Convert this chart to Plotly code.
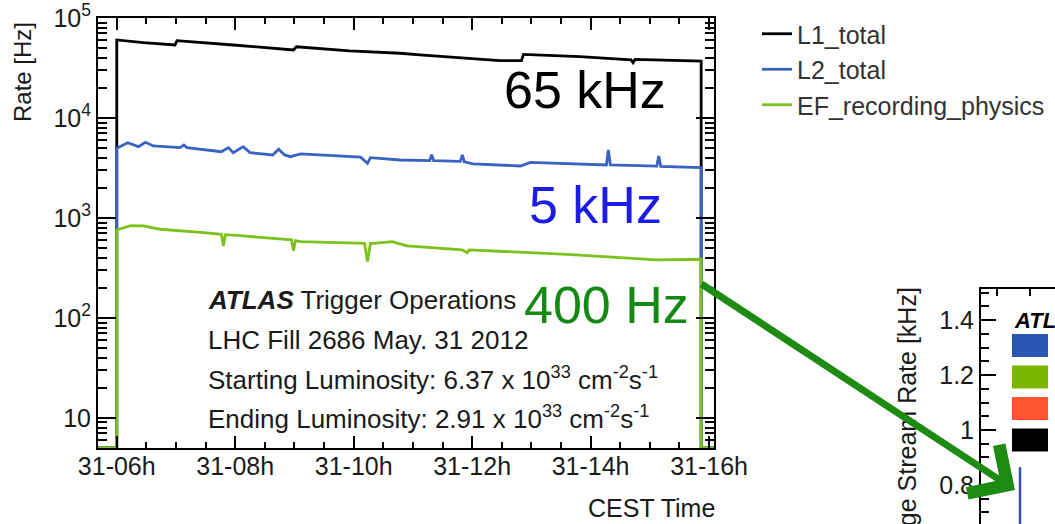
import math
import plotly.graph_objects as go

W, H = 1055, 524
DAY = "2012-05-31 "
FLOOR_HZ = 5.0  # empty bins sit on the bottom of the frame

# Trigger rates for LHC fill 2686 (clock time, rate in Hz)
l1_time = ["05:41", "06:00", "06:00", "06:27", "06:59", "07:01", "07:58", "08:59",
           "09:02", "09:56", "10:47", "11:07", "12:28", "12:50", "12:52", "13:49",
           "14:41", "14:43", "14:45", "15:52", "15:52", "16:05"]
l1_rate = [FLOOR_HZ, FLOOR_HZ, 60300, 56600, 53700, 59300, 53700, 47900,
           51600, 46800, 44400, 42700, 37400, 37400, 43300, 41000,
           38200, 35700, 38500, 37000, FLOOR_HZ, FLOOR_HZ]

l2_time = ["05:41", "06:00", "06:00", "06:11", "06:22", "06:29", "06:37", "07:04",
           "07:08", "07:11", "07:46", "07:53", "07:58", "08:08", "08:15", "08:38",
           "08:44", "08:50", "08:56", "09:06", "10:07", "10:14", "10:17", "10:47",
           "11:17", "11:19", "11:21", "11:48", "11:50", "11:52", "12:01", "12:49",
           "12:59", "14:16", "14:18", "14:20", "15:07", "15:09", "15:11", "15:52",
           "15:52", "16:05"]
l2_rate = [FLOOR_HZ, FLOOR_HZ, 4980, 5660, 5170, 5720, 5250, 5050,
           5370, 5050, 4600, 5050, 4500, 5170, 4500, 4270,
           4860, 4270, 4100, 4370, 4050, 3520, 4010, 3800,
           3740, 4300, 3740, 3680, 4270, 3650, 3470, 3310,
           3600, 3390, 4790, 3390, 3300, 4170, 3280, 3190,
           FLOOR_HZ, FLOOR_HZ]

ef_time = ["05:41", "06:00", "06:00", "06:14", "06:27", "06:44", "07:25", "07:46",
           "07:48", "07:50", "08:05", "08:57", "08:59", "09:01", "09:06", "10:11",
           "10:14", "10:17", "10:20", "10:39", "10:54", "11:50", "11:55", "11:57",
           "13:36", "15:07", "15:52", "15:52", "16:05"]
ef_rate = [FLOOR_HZ, FLOOR_HZ, 759, 838, 832, 771, 719, 687,
           525, 680, 665, 603, 471, 592, 580, 558,
           366, 558, 558, 580, 525, 480, 450, 479,
           433, 380, 386, FLOOR_HZ, FLOOR_HZ]

# Stream rate panel on the right [kHz]
stream_time = [0.697, 0.697]
stream_rate = [0.60, 0.865]

# Legend swatches of the stream rate panel
stream_colors = ["#2b55b5", "#7ab800", "#ff5533", "#000000"]

# Axis labels
rate_tickvals = [10, 100, 1000, 10000, 100000]
rate_ticktext = ["10", "10<sup>2</sup>", "10<sup>3</sup>", "10<sup>4</sup>", "10<sup>5</sup>"]
stream_tickvals = [0.8, 1.0, 1.2, 1.4]
stream_ticktext = ["0.8", "1", "1.2", "1.4"]

FONT = "Liberation Sans, Arial, sans-serif"
TXT = "#1a1a1a"


def px(x):
    return x / W


def py(y):
    return 1 - y / H


fig = go.Figure()
series = [
    ("L1_total", l1_time, l1_rate, "#000000"),
    ("L2_total", l2_time, l2_rate, "#3a62c2"),
    ("EF_recording_physics", ef_time, ef_rate, "#7cc21e"),
]
for name, t, r, c in series:
    fig.add_trace(go.Scatter(
        x=[DAY + s for s in t], y=r, mode="lines", name=name,
        line=dict(color=c, width=2.8), xaxis="x", yaxis="y"))

fig.add_trace(go.Scatter(
    x=stream_time, y=stream_rate, mode="lines", showlegend=False,
    line=dict(color="#3b4db5", width=2.5), xaxis="x2", yaxis="y2"))

minor_log = [d * 10 ** k for k in range(0, 5) for d in range(2, 10) if d * 10 ** k >= FLOOR_HZ]

axis_common = dict(showline=True, linecolor="black", linewidth=2, showgrid=False,
                   zeroline=False, tickcolor="black", tickwidth=1.5, automargin=False,
                   tickfont=dict(family=FONT, size=25, color=TXT))

fig.update_layout(
    template="none",
    width=W, height=H,
    margin=dict(l=0, r=0, t=0, b=0, autoexpand=False),
    paper_bgcolor="white", plot_bgcolor="white",
    font=dict(family=FONT, color=TXT),
    xaxis=dict(
        domain=[px(98), px(714)], anchor="y", type="date",
        range=[DAY + "05:41", DAY + "16:05"],
        tickformat="%d-%Hh", dtick=7200000, tick0=DAY + "00:00",
        ticks="inside", ticklen=12, mirror="allticks", ticklabelstandoff=-5,
        minor=dict(dtick=1800000, tick0=DAY + "00:00", ticks="inside", ticklen=6,
                   tickcolor="black", tickwidth=1.5, showgrid=False),
        **axis_common),
    yaxis=dict(
        domain=[py(448), py(18)], anchor="x", type="log",
        range=[math.log10(FLOOR_HZ), 5],
        tickmode="array", tickvals=rate_tickvals, ticktext=rate_ticktext,
        ticks="inside", ticklen=18, mirror="allticks",
        minor=dict(tickmode="array", tickvals=minor_log, ticks="inside", ticklen=9,
                   tickcolor="black", tickwidth=1.5, showgrid=False),
        **axis_common),
    xaxis2=dict(
        domain=[px(981), 1.0], anchor="y2", range=[-0.485, 1.757], dtick=1, tick0=0,
        side="top", ticks="inside", ticklen=7, showticklabels=False,
        **axis_common),
    yaxis2=dict(
        domain=[0.0, py(289)], anchor="x2", range=[0.658, 1.513],
        tickmode="array", tickvals=stream_tickvals, ticktext=stream_ticktext,
        ticks="inside", ticklen=15,
        minor=dict(dtick=0.05, tick0=0, ticks="inside", ticklen=8,
                   tickcolor="black", tickwidth=1.5, showgrid=False),
        **axis_common),
    legend=dict(x=px(757), y=py(11), xanchor="left", yanchor="top",
                font=dict(family=FONT, size=25, color="#333333"),
                bgcolor="rgba(0,0,0,0)", tracegroupgap=0),
)

ann = []
# axis titles
ann.append(dict(text="Rate [Hz]", x=px(22), y=py(72), xref="paper", yref="paper",
                textangle=-90, showarrow=False, xanchor="center", yanchor="middle",
                font=dict(family=FONT, size=24, color=TXT)))
ann.append(dict(text="CEST Time", x=px(717), y=py(508), xref="paper", yref="paper",
                showarrow=False, xanchor="right", yanchor="middle",
                font=dict(family=FONT, size=25, color=TXT)))
ann.append(dict(text="Average Stream Rate [kHz]", x=px(907), y=py(285), xref="paper", yref="paper",
                textangle=-90, showarrow=False, xanchor="center", yanchor="top",
                font=dict(family=FONT, size=25, color=TXT)))

# info block
info = [
    ("<b><i>ATLAS</i></b> Trigger Operations", 300),
    ("LHC Fill 2686 May. 31 2012", 340),
    ("Starting Luminosity: 6.37 x 10<sup>33</sup> cm<sup>-2</sup>s<sup>-1</sup>", 378),
    ("Ending Luminosity: 2.91 x 10<sup>33</sup> cm<sup>-2</sup>s<sup>-1</sup>", 417),
]
for txt, yy in info:
    ann.append(dict(text=txt, x=px(206), y=py(yy), xref="paper", yref="paper",
                    showarrow=False, xanchor="left", yanchor="middle",
                    font=dict(family=FONT, size=26, color=TXT)))

# rate callouts
for txt, xx, yy, col in [("65 kHz", 502, 90, "#000000"),
                         ("5 kHz", 527, 205, "#1c1ce8"),
                         ("400 Hz", 522, 305, "#138a13")]:
    ann.append(dict(text=txt, x=px(xx), y=py(yy), xref="paper", yref="paper",
                    showarrow=False, xanchor="left", yanchor="middle",
                    font=dict(family=FONT, size=52, color=col)))

# stream panel label
ann.append(dict(text="<b><i>ATLAS</i></b>", x=px(1012), y=py(320), xref="paper", yref="paper",
                showarrow=False, xanchor="left", yanchor="middle",
                font=dict(family=FONT, size=22, color="black")))

# arrow linking the EF rate to the stream panel
ann.append(dict(text="", x=px(1015), y=py(490), xref="paper", yref="paper",
                showarrow=True, ax=-315, ay=-207, arrowhead=4, arrowsize=1.6,
                arrowwidth=7, arrowcolor="#1d8a12", standoff=0, startstandoff=0))

fig.update_layout(annotations=ann)

shapes = []
for i, c in enumerate(stream_colors):
    top = 334 + i * 31.5
    shapes.append(dict(type="rect", xref="paper", yref="paper",
                       x0=px(1012), x1=px(1048), y0=py(top + 23), y1=py(top),
                       fillcolor=c, line=dict(width=0)))
fig.update_layout(shapes=shapes)

fig.write_html("out.html")
